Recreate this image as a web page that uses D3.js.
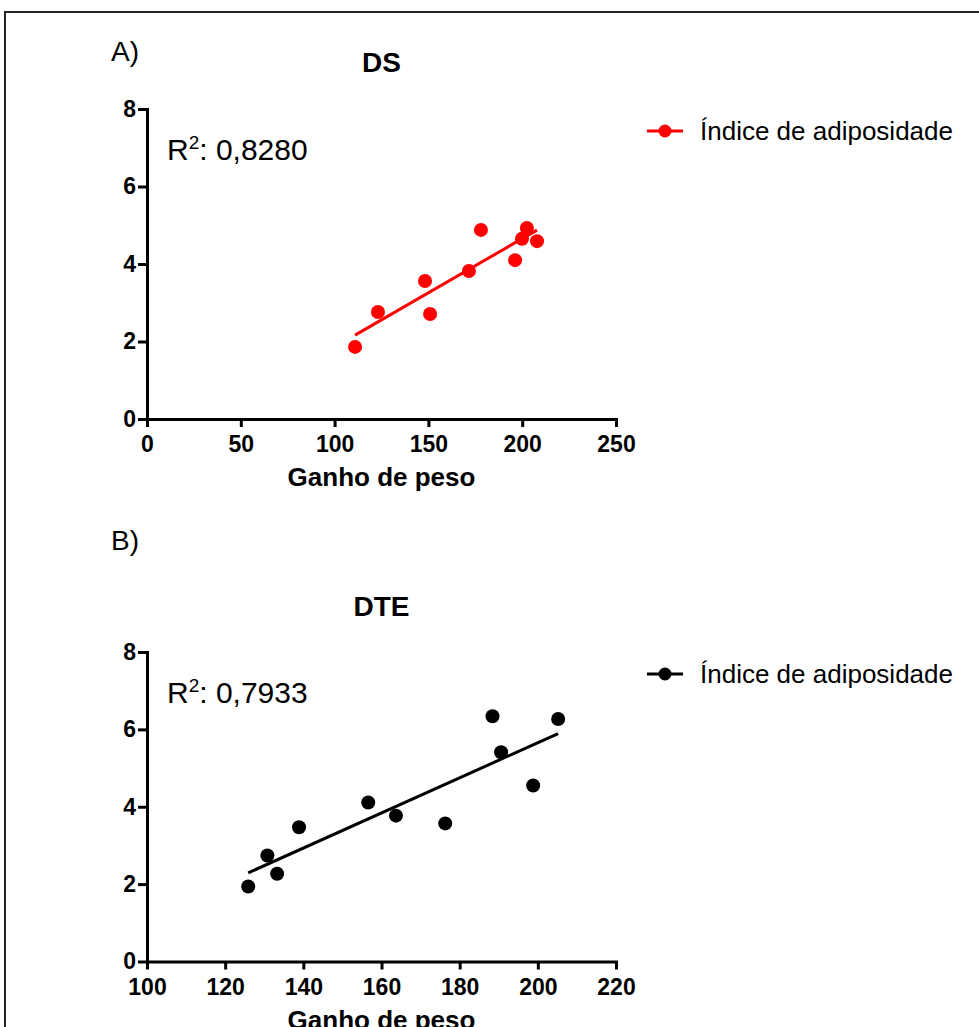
<!DOCTYPE html>
<html><head><meta charset="utf-8">
<script src="https://cdn.jsdelivr.net/npm/d3@7"></script>
<style>
body{margin:0;background:#fff}
svg{display:block}
text{font-family:"Liberation Sans",Arial,sans-serif;fill:#000}
</style>
</head><body>
<svg id="c" width="979" height="1027"></svg>
<script>
// ---- data ----
const dsGain  = [110.9,123.1,148.2,150.9,171.6,178.0,196.2,199.9,202.5,207.9];
const dsIndex = [1.86,2.76,3.56,2.71,3.82,4.88,4.10,4.65,4.93,4.59];
const dteGain  = [125.9,130.8,133.3,138.9,156.6,163.7,176.3,188.4,190.6,198.8,205.2];
const dteIndex = [1.94,2.74,2.27,3.47,4.11,3.77,3.57,6.34,5.41,4.55,6.27];
const dsXDomain = [0,250];
const dteXDomain = [100,220];
const dsXTicks = [0,50,100,150,200,250];
const dteXTicks = [100,120,140,160,180,200,220];
const yDomain = [0,8];
const yTicks = [0,2,4,6,8];
const panelLabels = ["A)","B)"];
const titles = ["DS","DTE"];
const r2Values = ["0,8280","0,7933"];
const seriesName = "Índice de adiposidade";
const xLabel = "Ganho de peso";
const colors = ["#ff0000","#000000"];

const svg = d3.select("#c");
svg.append("rect").attr("x",5).attr("y",12).attr("width",1000).attr("height",1100)
  .attr("fill","none").attr("stroke","#222").attr("stroke-width",2);

const layouts = [
  {top:109, bottom:419, labelY:61, titleY:72},
  {top:652, bottom:961.5, labelY:550, titleY:616}
];
const left = 147, right = 616;

function fit(xs, ys){
  const mx = d3.mean(xs), my = d3.mean(ys);
  let sxy=0, sxx=0;
  xs.forEach((v,i)=>{ sxy += (v-mx)*(ys[i]-my); sxx += (v-mx)*(v-mx); });
  const b = sxy/sxx; return {b, a: my - b*mx};
}

function drawPanel(i, xs, ys, xDomain, xTicks){
  const L = layouts[i], col = colors[i];
  const g = svg.append("g");
  const x = d3.scaleLinear().domain(xDomain).range([left,right]);
  const y = d3.scaleLinear().domain(yDomain).range([L.bottom,L.top]);

  // axes
  const xa = g.append("g").attr("transform",`translate(0,${L.bottom})`)
    .call(d3.axisBottom(x).tickValues(xTicks).tickSize(8).tickSizeOuter(0).tickPadding(9));
  const ya = g.append("g").attr("transform",`translate(${left},0)`)
    .call(d3.axisLeft(y).tickValues(yTicks).tickSize(9).tickSizeOuter(0).tickPadding(2));
  [xa,ya].forEach(a=>{
    a.select(".domain").attr("stroke","#000").attr("stroke-width",3).attr("stroke-linecap","square");
    a.selectAll(".tick line").attr("stroke","#000").attr("stroke-width",3);
    a.selectAll(".tick text").attr("font-size",23).attr("font-weight","bold")
      .attr("font-family","'Liberation Sans',Arial,sans-serif").attr("fill","#000");
  });

  // regression
  const f = fit(xs, ys);
  const x0 = d3.min(xs), x1 = d3.max(xs);
  g.append("line").attr("x1",x(x0)).attr("y1",y(f.a+f.b*x0))
    .attr("x2",x(x1)).attr("y2",y(f.a+f.b*x1))
    .attr("stroke",col).attr("stroke-width",3);

  // points
  g.selectAll("circle.pt").data(xs.map((v,k)=>[v,ys[k]])).join("circle")
    .attr("class","pt").attr("cx",d=>x(d[0])).attr("cy",d=>y(d[1])).attr("r",7).attr("fill",col);

  // texts
  g.append("text").attr("x",111).attr("y",L.labelY).attr("font-size",28).text(panelLabels[i]);
  g.append("text").attr("x",(left+right)/2).attr("y",L.titleY).attr("text-anchor","middle")
    .attr("font-size",28).attr("font-weight","bold").text(titles[i]);
  g.append("text").attr("x",(left+right)/2).attr("y",L.bottom+67).attr("text-anchor","middle")
    .attr("font-size",26).attr("font-weight","bold").text(xLabel);

  const r2 = g.append("text").attr("x",167).attr("y",L.top+51).attr("font-size",30);
  r2.append("tspan").text("R");
  r2.append("tspan").attr("font-size",19).attr("dy",-11).text("2");
  r2.append("tspan").attr("dy",11).text(": " + r2Values[i]);

  // legend
  const ly = L.top + 22;
  g.append("line").attr("x1",647).attr("x2",683).attr("y1",ly).attr("y2",ly)
    .attr("stroke",col).attr("stroke-width",3);
  g.append("circle").attr("cx",665).attr("cy",ly).attr("r",6.5).attr("fill",col);
  g.append("text").attr("x",700).attr("y",ly+9).attr("font-size",26).text(seriesName);
}

drawPanel(0, dsGain, dsIndex, dsXDomain, dsXTicks);
drawPanel(1, dteGain, dteIndex, dteXDomain, dteXTicks);
</script>
</body></html>
